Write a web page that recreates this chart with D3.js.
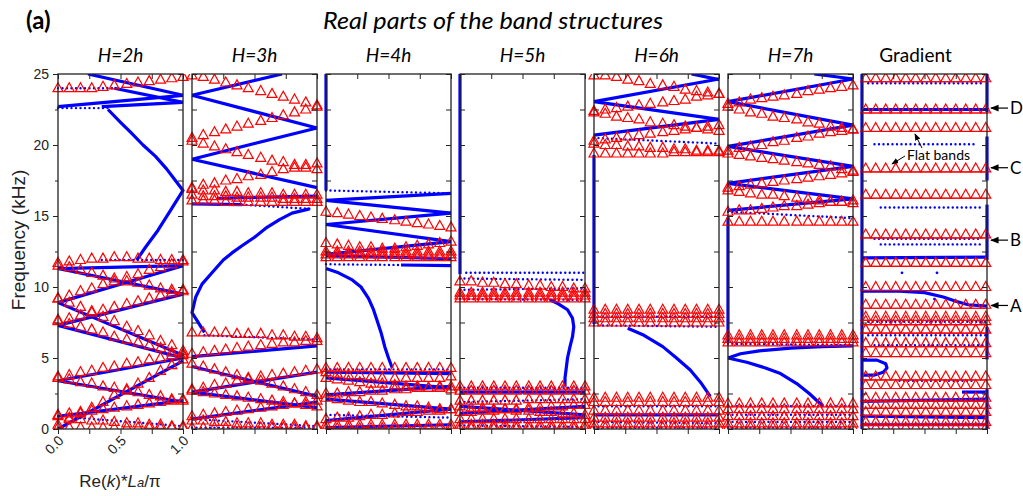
<!DOCTYPE html>
<html>
<head>
<meta charset="utf-8">
<script src="https://cdn.jsdelivr.net/npm/d3@7"></script>
<style>
body { margin: 0; background: #fff; }
svg { display: block; font-family: "Liberation Sans", Arial, sans-serif; }
</style>
</head>
<body>
<svg id="chart" width="1023" height="496"></svg>
<script>
// ---- labels / ticks ----
var panelTitles = ["H=2h", "H=3h", "H=4h", "H=5h", "H=6h", "H=7h", "Gradient"];
var yTicks = [0, 5, 10, 15, 20, 25];
var yMinorTicks = [0, 2.5, 5, 7.5, 10, 12.5, 15, 17.5, 20, 22.5, 25];
var xTicks = [0, 0.25, 0.5, 0.75, 1];
var xTickLabels = [0, 0.5, 1];
var sideLabels = ["D", "C", "B", "A"];
var sideFreqs = [22.6, 18.4, 13.3, 8.7];

// k positions of the triangle markers
var kGrid = [0, 0.09, 0.18, 0.27, 0.36, 0.45, 0.55, 0.64, 0.73, 0.82, 0.91, 1.0];
var gradK = [0.03, 0.11, 0.19, 0.27, 0.35, 0.43, 0.51, 0.59, 0.67, 0.75, 0.83, 0.91, 0.99];

// ---- H=2h ----
var h2Bands = [
    [[0, 0], [1, 4.8]],
    [[0, 0.9], [1, 2.0]],
    [[0, 3.4], [1, 5.0]],
    [[0, 3.4], [1, 1.9]],
    [[0, 7.3], [1, 5.0]],
    [[0, 7.3], [1, 9.5]],
    [[0, 8.9], [1, 5.2]],
    [[0, 8.9], [1, 11.5]],
    [[0, 11.3], [1, 9.5]],
    [[0, 11.3], [1, 11.5]],
    [[0.63, 11.9], [0.7, 12.8], [0.8, 14.0], [0.9, 15.4], [1, 16.8], [0.93, 17.6], [0.87, 18.3],
     [0.78, 19.2], [0.68, 20.0], [0.58, 20.9], [0.5, 21.6], [0.4, 22.5]],
    [[0.35, 22.7], [1, 23.0]],
    [[0, 22.7], [1, 23.5]],
    [[0.45, 24.0], [1, 23.0]],
    [[0.24, 25], [1, 23.5]]
];
var h2Dotted = [
    [[0, 0.9], [1, 0.2]],
    [[0.35, 11.9], [1, 11.9]],
    [[0, 22.6], [0.4, 22.6]],
    [[0, 24.0], [0.45, 24.0]]
];
var h2Tri = [
    [24.0, 24.0, 24.0, 24.0, 24.1, 24.2, 24.3, 24.4, 24.5, 24.6, 24.7, 24.8],
    [11.7, 11.8, 11.9, 12.0, 12.0, 12.1, 12.1, 12.0, 12.0, 11.9, 11.9, 11.9],
    [11.5, 11.4, 11.2, 11.0, 10.8, 10.6, 10.4, 10.3, 10.1, 9.9, 9.8, 9.7],
    [9.2, 9.4, 9.7, 9.9, 10.2, 10.4, 10.7, 10.9, 11.2, 11.4, 11.6, 11.8],
    [7.7, 7.8, 8.0, 8.2, 8.4, 8.6, 8.8, 9.0, 9.2, 9.4, 9.6, 9.8],
    [9.2, 8.9, 8.6, 8.3, 7.9, 7.6, 7.2, 6.9, 6.6, 6.2, 5.9, 5.5],
    [7.6, 7.4, 7.2, 7.0, 6.8, 6.5, 6.3, 6.1, 5.9, 5.7, 5.4, 5.2],
    [3.7, 3.8, 4.0, 4.1, 4.3, 4.4, 4.6, 4.7, 4.9, 5.0, 5.2, 5.3],
    [3.6, 3.5, 3.3, 3.2, 3.0, 2.9, 2.7, 2.6, 2.4, 2.3, 2.1, 2.0],
    [0.3, 0.7, 1.1, 1.5, 1.9, 2.4, 2.8, 3.2, 3.6, 4.1, 4.5, 4.9],
    [1.0, 1.1, 1.2, 1.3, 1.4, 1.5, 1.6, 1.7, 1.8, 1.9, 2.0, 2.1],
    [0.9, 0.8, 0.7, 0.6, 0.6, 0.5, 0.4, 0.4, 0.3, 0.3, 0.2, 0.2],
    [0.1, 0.1, 0.1, 0.1, 0.1, 0.1, 0.1, 0.1, 0.1, 0.1, 0.1, 0.1]
];

// ---- H=3h ----
var h3Bands = [
    [[0, 23.5], [0.72, 25]],
    [[0, 23.5], [1, 21.2]],
    [[0, 19.0], [1, 21.2]],
    [[0, 19.0], [1, 17.0]],
    [[0.2, 16.25], [1, 16.4]],
    [[0, 15.85], [0.4, 15.8]],
    [[0.1, 6.8], [0, 8.2], [0.03, 9.3], [0.08, 10.2], [0.16, 11.0], [0.25, 11.9], [0.32, 12.4],
     [0.4, 12.9], [0.5, 13.5], [0.6, 14.2], [0.7, 14.75], [0.8, 15.2], [0.94, 15.5]],
    [[0, 5.1], [1, 5.85]],
    [[0, 4.4], [1, 2.3]],
    [[0, 2.6], [1, 4.0]],
    [[0, 2.6], [1, 1.5]],
    [[0, 0.7], [1, 1.9]]
];
var h3Dotted = [
    [[0.1, 6.6], [1, 6.3]],
    [[0.4, 15.8], [0.95, 15.5]],
    [[0, 0.7], [1, 0.2]],
    [[0, 0.1], [1, 0.1]]
];
var h3Tri = [
    [24.9, 24.8, 24.6, 24.4, 24.2, 24.0, 23.8, 23.6, 23.4, 23.2, 23.0, 22.8],
    [20.5, 20.7, 20.9, 21.1, 21.3, 21.5, 21.7, 21.9, 22.1, 22.3, 22.5, 22.7],
    [20.3, 20.1, 19.9, 19.7, 19.5, 19.3, 19.1, 18.9, 18.8, 18.6, 18.4, 18.3],
    [17.0, 17.2, 17.3, 17.5, 17.6, 17.8, 17.9, 18.1, 18.3, 18.4, 18.6, 18.7],
    [16.9, 16.8, 16.8, 16.7, 16.7, 16.6, 16.6, 16.6, 16.5, 16.5, 16.5, 16.5],
    [16.5, 16.4, 16.4, 16.4, 16.3, 16.3, 16.3, 16.3, 16.2, 16.2, 16.2, 16.2],
    [16.1, 16.1, 16.1, 16.0, 16.0, 16.0, 16.0, 16.0, 16.0, 16.0, 16.0, 16.0],
    [6.8, 6.8, 6.8, 6.8, 6.7, 6.7, 6.7, 6.6, 6.6, 6.5, 6.5, 6.4],
    [5.3, 5.4, 5.5, 5.6, 5.7, 5.8, 5.9, 6.0, 6.1, 6.1, 6.2, 6.2],
    [4.6, 4.4, 4.2, 4.0, 3.8, 3.6, 3.4, 3.2, 3.0, 2.8, 2.6, 2.4],
    [2.8, 2.9, 3.1, 3.2, 3.4, 3.5, 3.7, 3.8, 3.9, 4.0, 4.1, 4.2],
    [2.7, 2.6, 2.5, 2.4, 2.3, 2.2, 2.1, 2.0, 1.9, 1.8, 1.7, 1.6],
    [0.9, 1.0, 1.1, 1.2, 1.3, 1.4, 1.5, 1.6, 1.7, 1.8, 1.9, 2.0],
    [0.6, 0.6, 0.5, 0.5, 0.4, 0.4, 0.4, 0.3, 0.3, 0.3, 0.2, 0.2],
    [0.1, 0.1, 0.1, 0.1, 0.1, 0.1, 0.1, 0.1, 0.1, 0.1, 0.1, 0.1]
];

// ---- H=4h ----
var h4Bands = [
    [[0, 25], [0, 16.8]],
    [[0, 16.1], [1, 16.6]],
    [[0, 16.1], [1, 15.2]],
    [[0, 14.4], [1, 15.2]],
    [[0, 14.4], [1, 13.2]],
    [[0, 12.3], [1, 13.2]],
    [[0, 12.2], [1, 12.0]],
    [[0.6, 11.55], [1, 11.5]],
    [[0, 11.3], [0.1, 11.0], [0.21, 10.5], [0.28, 10.0], [0.34, 9.2], [0.38, 8.4], [0.41, 7.6],
     [0.44, 6.8], [0.47, 5.8], [0.5, 5.0], [0.53, 4.3]],
    [[0, 4.0], [1, 3.9]],
    [[0, 3.6], [1, 2.9]],
    [[0, 2.4], [1, 3.0]],
    [[0, 2.1], [1, 1.4]],
    [[0, 0.6], [1, 1.4]],
    [[0, 0.1], [1, 0.3]]
];
var h4Dotted = [
    [[0, 16.8], [1, 16.6]],
    [[0, 11.6], [0.6, 11.55]],
    [[0, 4.2], [1, 4.2]],
    [[0, 1.0], [1, 0.8]]
];
var h4Tri = [
    [15.3, 15.2, 15.1, 15.0, 14.9, 14.8, 14.7, 14.6, 14.5, 14.4, 14.3, 14.2],
    [13.1, 13.0, 12.9, 12.8, 12.8, 12.7, 12.7, 12.8, 12.9, 13.0, 13.1, 13.2],
    [12.5, 12.5, 12.5, 12.5, 12.5, 12.5, 12.5, 12.5, 12.5, 12.5, 12.5, 12.5],
    [12.3, 12.3, 12.3, 12.3, 12.3, 12.3, 12.3, 12.3, 12.3, 12.3, 12.3, 12.3],
    [12.1, 12.1, 12.1, 12.1, 12.1, 12.1, 12.1, 12.1, 12.1, 12.1, 12.1, 12.1],
    [4.3, 4.3, 4.3, 4.3, 4.3, 4.3, 4.3, 4.3, 4.3, 4.3, 4.3, 4.3],
    [4.0, 3.9, 3.8, 3.8, 3.7, 3.6, 3.6, 3.6, 3.6, 3.6, 3.6, 3.7],
    [3.6, 3.5, 3.4, 3.3, 3.2, 3.2, 3.1, 3.0, 3.0, 2.9, 2.9, 2.8],
    [2.5, 2.5, 2.6, 2.6, 2.7, 2.7, 2.8, 2.8, 2.9, 2.9, 3.0, 3.0],
    [2.2, 2.1, 2.0, 1.9, 1.9, 1.8, 1.7, 1.6, 1.6, 1.5, 1.4, 1.4],
    [0.7, 0.8, 0.8, 0.9, 1.0, 1.0, 1.1, 1.2, 1.2, 1.3, 1.3, 1.4],
    [0.3, 0.3, 0.3, 0.3, 0.3, 0.3, 0.3, 0.3, 0.3, 0.3, 0.3, 0.3],
    [0.05, 0.05, 0.05, 0.05, 0.05, 0.05, 0.05, 0.05, 0.05, 0.05, 0.05, 0.05]
];

// ---- H=5h ----
var h5Bands = [
    [[0, 25], [0, 10.9]],
    [[0.72, 9.1], [0.79, 8.8], [0.86, 8.4], [0.9, 7.8], [0.91, 7.2], [0.9, 6.5], [0.88, 5.8],
     [0.86, 5.0], [0.85, 4.3], [0.84, 3.6], [0.84, 3.0]],
    [[0, 2.6], [1, 2.6]],
    [[0, 1.6], [1, 1.0]],
    [[0, 1.1], [1, 1.6]],
    [[0, 0.5], [1, 0.8]]
];
var h5Dotted = [
    [[0.05, 11.0], [1, 11.0]],
    [[0, 10.6], [1, 10.5]],
    [[0, 9.8], [1, 9.9]],
    [[0, 9.15], [1, 9.1]],
    [[0, 2.9], [1, 2.9]],
    [[0, 1.9], [1, 2.1]],
    [[0, 0.25], [1, 0.15]]
];
var h5Tri = [
    [10.4, 10.4, 10.3, 10.3, 10.2, 10.2, 10.1, 10.1, 10.0, 10.0, 9.9, 9.9],
    [9.6, 9.6, 9.6, 9.6, 9.6, 9.6, 9.6, 9.6, 9.6, 9.6, 9.6, 9.6],
    [9.4, 9.4, 9.4, 9.4, 9.4, 9.4, 9.4, 9.4, 9.4, 9.4, 9.4, 9.4],
    [9.2, 9.2, 9.2, 9.2, 9.2, 9.2, 9.2, 9.2, 9.2, 9.2, 9.2, 9.2],
    [3.0, 3.0, 3.0, 3.0, 3.0, 3.0, 3.0, 3.0, 3.0, 3.0, 3.0, 3.0],
    [2.7, 2.7, 2.7, 2.7, 2.7, 2.7, 2.7, 2.7, 2.7, 2.7, 2.7, 2.7],
    [2.0, 2.0, 2.0, 2.0, 2.0, 2.0, 2.1, 2.1, 2.1, 2.1, 2.1, 2.1],
    [1.6, 1.5, 1.5, 1.4, 1.4, 1.3, 1.3, 1.2, 1.2, 1.1, 1.1, 1.0],
    [1.2, 1.2, 1.3, 1.3, 1.4, 1.4, 1.5, 1.5, 1.6, 1.6, 1.7, 1.7],
    [0.7, 0.7, 0.7, 0.7, 0.7, 0.7, 0.7, 0.7, 0.7, 0.7, 0.7, 0.7],
    [0.3, 0.3, 0.3, 0.3, 0.3, 0.3, 0.3, 0.3, 0.3, 0.3, 0.3, 0.3],
    [0.05, 0.05, 0.05, 0.05, 0.05, 0.05, 0.05, 0.05, 0.05, 0.05, 0.05, 0.05]
];

// ---- H=6h ----
var h6Bands = [
    [[0.78, 25], [1, 24.6]],
    [[0, 23.05], [1, 24.65]],
    [[0, 23.05], [1, 21.8]],
    [[0, 20.7], [1, 21.8]],
    [[0, 19.3], [0, 7.4]],
    [[0.27, 7.1], [0.4, 6.6], [0.55, 5.8], [0.66, 5.0], [0.77, 4.15], [0.86, 3.2], [0.93, 2.3]],
    [[0, 1.0], [1, 1.0]]
];
var h6Dotted = [
    [[0, 20.5], [1, 20.1]],
    [[0, 7.3], [1, 7.2]],
    [[0, 7.9], [1, 7.9]],
    [[0, 1.6], [1, 1.6]],
    [[0, 0.5], [1, 0.4]],
    [[0, 0.1], [1, 0.1]]
];
var h6Tri = [
    [24.9, 24.9, 24.8, 24.6, 24.5, 24.3, 24.2, 24.1, 23.9, 23.8, 23.7, 23.6],
    [22.4, 22.5, 22.6, 22.7, 22.8, 22.9, 23.0, 23.1, 23.2, 23.4, 23.5, 23.6],
    [22.3, 22.2, 22.0, 21.9, 21.8, 21.6, 21.5, 21.4, 21.3, 21.2, 21.1, 21.0],
    [20.3, 20.4, 20.5, 20.6, 20.7, 20.8, 20.9, 21.0, 21.1, 21.2, 21.3, 21.4],
    [20.1, 20.0, 20.0, 19.9, 19.9, 19.8, 19.8, 19.7, 19.7, 19.6, 19.6, 19.6],
    [19.4, 19.4, 19.4, 19.4, 19.4, 19.4, 19.4, 19.5, 19.5, 19.5, 19.5, 19.5],
    [8.4, 8.4, 8.4, 8.4, 8.4, 8.4, 8.4, 8.4, 8.4, 8.4, 8.4, 8.4],
    [8.1, 8.1, 8.1, 8.1, 8.1, 8.1, 8.1, 8.1, 8.1, 8.1, 8.1, 8.1],
    [7.8, 7.8, 7.8, 7.8, 7.8, 7.8, 7.8, 7.8, 7.8, 7.8, 7.8, 7.8],
    [7.5, 7.5, 7.5, 7.5, 7.5, 7.5, 7.5, 7.5, 7.5, 7.5, 7.5, 7.5],
    [2.2, 2.2, 2.2, 2.2, 2.2, 2.2, 2.2, 2.2, 2.2, 2.2, 2.2, 2.2],
    [1.9, 1.9, 1.9, 1.9, 1.9, 1.9, 1.9, 1.9, 1.9, 1.9, 1.9, 1.9],
    [1.3, 1.3, 1.3, 1.3, 1.3, 1.3, 1.3, 1.3, 1.3, 1.3, 1.3, 1.3],
    [0.8, 0.8, 0.8, 0.8, 0.8, 0.8, 0.8, 0.8, 0.8, 0.8, 0.8, 0.8],
    [0.4, 0.4, 0.4, 0.4, 0.4, 0.4, 0.4, 0.4, 0.4, 0.4, 0.4, 0.4],
    [0.1, 0.1, 0.1, 0.1, 0.1, 0.1, 0.1, 0.1, 0.1, 0.1, 0.1, 0.1]
];

// ---- H=7h ----
var h7Bands = [
    [[0.69, 25], [1, 24.65]],
    [[0, 23.05], [1, 24.65]],
    [[0, 23.05], [1, 21.4]],
    [[0, 19.9], [1, 21.4]],
    [[0, 19.9], [1, 18.5]],
    [[0, 17.3], [1, 18.5]],
    [[0, 17.3], [1, 16.2]],
    [[0, 15.4], [1, 16.2]],
    [[0, 14.9], [0, 6.1]],
    [[0, 5.0], [0.1, 5.3], [0.25, 5.5], [0.5, 5.7], [0.75, 5.8], [1, 5.85]],
    [[0, 5.0], [0.15, 4.7], [0.3, 4.3], [0.42, 3.9], [0.55, 3.2], [0.65, 2.5], [0.76, 1.6]]
];
var h7Dotted = [
    [[0, 15.3], [1, 14.85]],
    [[0, 6.0], [1, 5.9]],
    [[0, 1.6], [1, 1.6]],
    [[0, 1.0], [1, 1.0]],
    [[0, 0.5], [1, 0.5]],
    [[0, 0.1], [1, 0.1]]
];
var h7Tri = [
    [22.9, 23.0, 23.2, 23.3, 23.4, 23.5, 23.6, 23.8, 23.9, 24.0, 24.1, 24.2],
    [22.7, 22.5, 22.3, 22.2, 22.0, 21.9, 21.8, 21.6, 21.5, 21.3, 21.2, 21.1],
    [19.6, 19.8, 19.9, 20.0, 20.2, 20.3, 20.5, 20.6, 20.8, 20.9, 21.0, 21.1],
    [19.4, 19.3, 19.2, 19.1, 19.0, 18.9, 18.8, 18.7, 18.6, 18.5, 18.3, 18.2],
    [17.0, 17.1, 17.2, 17.3, 17.4, 17.5, 17.6, 17.7, 17.8, 17.9, 18.0, 18.1],
    [16.8, 16.7, 16.6, 16.5, 16.5, 16.4, 16.3, 16.2, 16.1, 16.0, 16.0, 15.9],
    [15.3, 15.4, 15.4, 15.5, 15.6, 15.7, 15.7, 15.8, 15.9, 16.0, 16.0, 16.1],
    [14.6, 14.6, 14.6, 14.6, 14.6, 14.6, 14.6, 14.6, 14.6, 14.6, 14.6, 14.6],
    [6.6, 6.6, 6.6, 6.6, 6.6, 6.6, 6.6, 6.6, 6.6, 6.6, 6.6, 6.6],
    [6.35, 6.35, 6.35, 6.35, 6.35, 6.35, 6.35, 6.35, 6.35, 6.35, 6.35, 6.35],
    [6.1, 6.1, 6.1, 6.1, 6.1, 6.1, 6.1, 6.1, 6.1, 6.1, 6.1, 6.1],
    [1.8, 1.8, 1.8, 1.8, 1.8, 1.8, 1.8, 1.8, 1.8, 1.8, 1.8, 1.8],
    [1.4, 1.4, 1.4, 1.4, 1.4, 1.4, 1.4, 1.4, 1.4, 1.4, 1.4, 1.4],
    [0.9, 0.9, 0.9, 0.9, 0.9, 0.9, 0.9, 0.9, 0.9, 0.9, 0.9, 0.9],
    [0.4, 0.4, 0.4, 0.4, 0.4, 0.4, 0.4, 0.4, 0.4, 0.4, 0.4, 0.4],
    [0.1, 0.1, 0.1, 0.1, 0.1, 0.1, 0.1, 0.1, 0.1, 0.1, 0.1, 0.1]
];

// ---- Gradient ----
var gradBands = [
    [[0, 25], [0, 0]],
    [[1, 25], [1, 22.3]],
    [[1, 20.6], [1, 17.5]],
    [[1, 15.8], [1, 11.9]],
    [[1, 7.2], [1, 4.9]],
    [[1, 2.8], [1, 0]],
    [[0, 22.5], [1, 22.5]],
    [[0, 12.05], [1, 12.1]],
    [[0, 9.7], [0.3, 9.7], [0.5, 9.6], [0.65, 9.3], [0.75, 9.0], [0.85, 8.75], [1, 8.65]],
    [[0, 4.85], [0.12, 4.85], [0.19, 4.6], [0.2, 4.3], [0.17, 4.0], [0.1, 3.8], [0, 3.8]],
    [[0.8, 2.6], [1, 2.6]],
    [[0, 1.95], [1, 2.1]],
    [[0, 0.9], [1, 0.8]],
    [[0, 0.3], [1, 0.3]]
];
var gradDotted = [
    [[0.05, 24.35], [0.95, 24.35]],
    [[0.1, 20.05], [0.9, 20.05]],
    [[0.15, 15.6], [0.95, 15.6]],
    [[0.1, 13.4], [0.95, 13.4]],
    [[0.15, 13.0], [0.95, 13.0]],
    [[0.05, 7.55], [1, 7.55]],
    [[0.05, 6.6], [1, 6.6]],
    [[0.1, 5.9], [1, 5.9]],
    [[0.3, 3.4], [0.9, 3.4]]
];
var gradSpots = [[0.32, 11.0], [0.6, 11.0], [0.58, 9.15]];
var gradRows = [24.7, 22.5, 21.2, 18.35, 16.5, 13.7, 11.7, 10.0, 8.75, 7.9, 7.6, 7.0,
                6.05, 5.35, 3.7, 3.1, 2.2, 1.7, 1.2, 0.5, 0.1];

// build panel table from the arrays above
var panels = [
    { bands: h2Bands, dotted: h2Dotted, tri: h2Tri },
    { bands: h3Bands, dotted: h3Dotted, tri: h3Tri },
    { bands: h4Bands, dotted: h4Dotted, tri: h4Tri },
    { bands: h5Bands, dotted: h5Dotted, tri: h5Tri },
    { bands: h6Bands, dotted: h6Dotted, tri: h6Tri },
    { bands: h7Bands, dotted: h7Dotted, tri: h7Tri },
    { bands: gradBands, dotted: gradDotted, tri: [] }
];

var svg = d3.select("#chart");
var defs = svg.append("defs");
var plotTop = 74, plotBottom = 429;

var panelX = d3.scaleBand().domain(d3.range(panels.length)).range([58, 987]).paddingInner(0.067);
var W = panelX.bandwidth();
var x = d3.scaleLinear().domain([0, 1]).range([0, W]);
var y = d3.scaleLinear().domain([0, 25]).range([plotBottom, plotTop]);

var line = d3.line()
    .x(function (d) { return x(d[0]); })
    .y(function (d) { return y(d[1]); });

var triPath = "M0,-5.5L5,3.5L-5,3.5Z";
var blue = "#0000ff", red = "#ff0000";

// marker definition for the annotation arrows
defs.append("marker").attr("id", "arr").attr("viewBox", "0 0 10 10")
    .attr("refX", 9).attr("refY", 5).attr("markerWidth", 7).attr("markerHeight", 7)
    .attr("orient", "auto")
    .append("path").attr("d", "M0,1L10,5L0,9Z").attr("fill", "#000");

panels.forEach(function (p, i) {
    var g = svg.append("g").attr("transform", "translate(" + panelX(i) + ",0)");

    defs.append("clipPath").attr("id", "clip" + i)
        .append("rect").attr("x", -6).attr("y", plotTop).attr("width", W + 12).attr("height", plotBottom - plotTop);

    var plot = g.append("g").attr("clip-path", "url(#clip" + i + ")");

    // blue dotted bands
    p.dotted.forEach(function (b) {
        plot.append("path").attr("d", line(b))
            .style("fill", "none").style("stroke", blue)
            .style("stroke-width", 2.4).style("stroke-linecap", "round")
            .style("stroke-dasharray", "0,4.5");
    });

    // blue solid bands
    p.bands.forEach(function (b) {
        plot.append("path").attr("d", line(b))
            .style("fill", "none").style("stroke", blue)
            .style("stroke-width", 3.2).style("stroke-linejoin", "round");
    });

    // red triangles
    p.tri.forEach(function (row) {
        plot.selectAll(null).data(kGrid.map(function (k, j) { return [k, row[j]]; }))
            .enter().append("path")
            .attr("d", triPath)
            .attr("transform", function (d) { return "translate(" + x(d[0]) + "," + y(d[1]) + ")"; })
            .style("fill", "none").style("stroke", red).style("stroke-width", 1.2);
    });

    if (i === panels.length - 1) {
        gradSpots.forEach(function (d) {
            plot.append("circle").attr("cx", x(d[0])).attr("cy", y(d[1])).attr("r", 1.4).attr("fill", blue);
        });
        gradRows.forEach(function (f) {
            plot.append("line").attr("x1", x(0)).attr("x2", x(1))
                .attr("y1", y(f) + 3.5).attr("y2", y(f) + 3.5)
                .style("stroke", red).style("stroke-width", 1.1);
            plot.selectAll(null).data(gradK).enter().append("path")
                .attr("d", triPath)
                .attr("transform", function (k) { return "translate(" + x(k) + "," + y(f) + ")"; })
                .style("fill", "none").style("stroke", red).style("stroke-width", 1.2);
        });
    }

    // inward ticks: right, left, top; outward: bottom
    var tk = function (sel) { sel.select(".domain").remove(); sel.selectAll("line").attr("stroke", "#222"); };
    g.append("g").attr("transform", "translate(" + W + ",0)")
        .call(d3.axisLeft(y).tickValues(yMinorTicks).tickSize(5).tickFormat("")).call(tk);
    if (i > 0) {
        g.append("g").call(d3.axisRight(y).tickValues(yMinorTicks).tickSize(5).tickFormat("")).call(tk);
    }
    g.append("g").attr("transform", "translate(0," + plotTop + ")")
        .call(d3.axisBottom(x).tickValues(xTicks).tickSize(5).tickFormat("")).call(tk);
    g.append("g").attr("transform", "translate(0," + plotBottom + ")")
        .call(d3.axisBottom(x).tickValues(xTicks).tickSize(5).tickFormat("")).call(tk);

    // frame
    g.append("rect").attr("x", 0).attr("y", plotTop).attr("width", W).attr("height", plotBottom - plotTop)
        .style("fill", "none").style("stroke", "#222").style("stroke-width", 1.3);

    // panel title
    var last = i === panels.length - 1;
    g.append("text").attr("x", W / 2 + (last ? -9 : 0)).attr("y", 62)
        .attr("text-anchor", "middle")
        .style("font-family", "Lato, 'Open Sans', sans-serif")
        .style("font-size", last ? "19px" : "19px")
        .style("font-style", last ? "normal" : "italic")
        .text(panelTitles[i]);
});

// left axis of first panel with labels
var g0 = svg.append("g").attr("transform", "translate(" + panelX(0) + ",0)");
var yAx = g0.append("g").call(d3.axisLeft(y).tickValues(yMinorTicks).tickSize(5)
    .tickFormat(function (d) { return yTicks.indexOf(d) >= 0 ? d : ""; }));
yAx.select(".domain").remove();
yAx.selectAll("line").attr("stroke", "#222").attr("x2", function (d) { return yTicks.indexOf(d) >= 0 ? -5 : -3; });
yAx.selectAll("text").style("font-size", "14px").style("font-family", "'Liberation Sans', Arial, sans-serif")
    .attr("fill", "#222").attr("x", -9);

// rotated x tick labels
g0.selectAll(".xl").data(xTickLabels).enter().append("text")
    .attr("transform", function (d) { return "translate(" + (x(d) + 3) + "," + (plotBottom + 9) + ") rotate(-45)"; })
    .attr("text-anchor", "end").attr("dy", "0.35em")
    .style("font-size", "14px").attr("fill", "#222")
    .text(function (d) { return d3.format(".1f")(d); });

// axis titles
svg.append("text").attr("transform", "translate(25,240) rotate(-90)")
    .attr("text-anchor", "middle").style("font-size", "19px").attr("fill", "#222")
    .text("Frequency (kHz)");

var xl = svg.append("text").attr("x", 120).attr("y", 487).attr("text-anchor", "middle")
    .style("font-size", "17px").attr("fill", "#222");
xl.append("tspan").text("Re(");
xl.append("tspan").style("font-style", "italic").text("k");
xl.append("tspan").text(")*");
xl.append("tspan").style("font-style", "italic").text("L");
xl.append("tspan").style("font-style", "italic").style("font-size", "13px").text("a");
xl.append("tspan").text("/\u03c0");

// headings
svg.append("text").attr("x", 26).attr("y", 29).style("font-size", "24px")
    .style("font-family", "Lato, 'Open Sans', sans-serif").style("font-weight", "bold").text("(a)");
svg.append("text").attr("x", 493).attr("y", 29).attr("text-anchor", "middle")
    .style("font-size", "24px").style("font-style", "italic")
    .style("font-family", "Lato, 'Open Sans', sans-serif")
    .attr("textLength", 340).attr("lengthAdjust", "spacingAndGlyphs")
    .text("Real parts of the band structures");

// side arrows A-D
var gx = panelX(6) + W;
sideLabels.forEach(function (lab, j) {
    var yy = y(sideFreqs[j]);
    svg.append("line").attr("x1", gx + 21).attr("x2", gx + 4).attr("y1", yy).attr("y2", yy)
        .attr("stroke", "#000").attr("stroke-width", 1.2).attr("marker-end", "url(#arr)");
    svg.append("text").attr("x", gx + 23).attr("y", yy).attr("dy", "0.36em")
        .style("font-size", "17px").style("font-family", "Lato, 'Open Sans', sans-serif").text(lab);
});

// flat bands annotation
var gl = panelX(6);
svg.append("text").attr("x", gl + 45).attr("y", 160).style("font-size", "14px")
    .style("font-family", "Lato, 'Open Sans', sans-serif").text("Flat bands");
svg.append("line").attr("x1", gl + 60).attr("y1", 148).attr("x2", gl + 53).attr("y2", 134)
    .attr("stroke", "#000").attr("stroke-width", 1).attr("marker-end", "url(#arr)");
svg.append("line").attr("x1", gl + 43).attr("y1", 156).attr("x2", gl + 30).attr("y2", 164)
    .attr("stroke", "#000").attr("stroke-width", 1).attr("marker-end", "url(#arr)");
</script>
</body>
</html>
